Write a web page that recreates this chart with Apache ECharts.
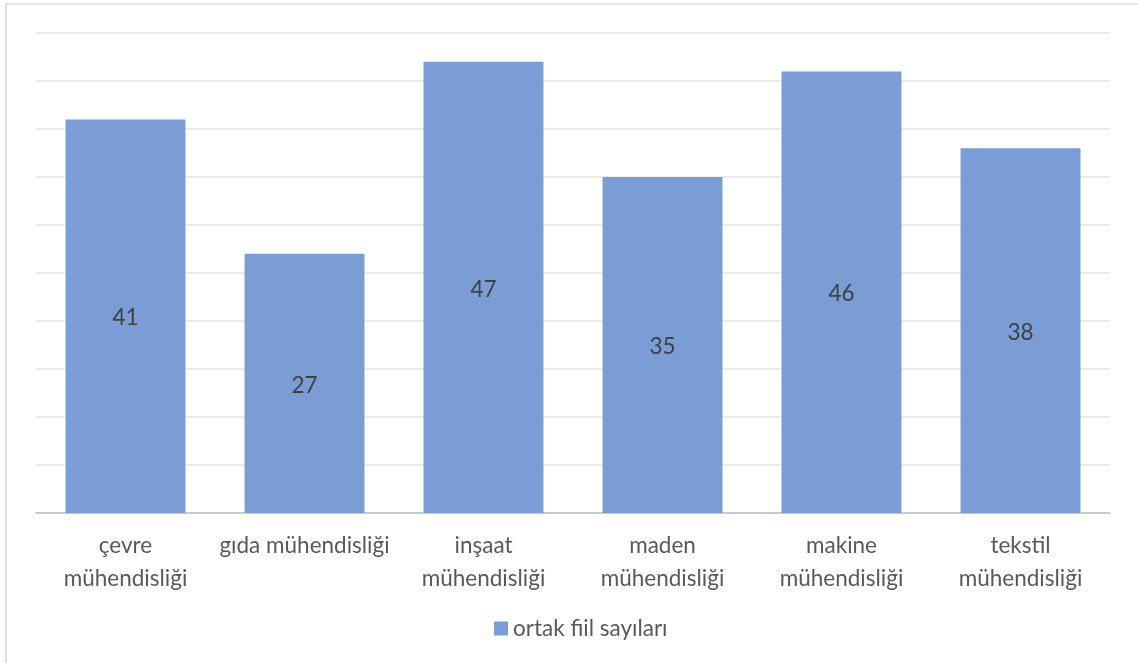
<!DOCTYPE html>
<html>
<head>
<meta charset="utf-8">
<style>
  html, body { margin: 0; padding: 0; background: #ffffff; }
  #chart { width: 1138px; height: 663px; }
</style>
<script src="https://cdn.jsdelivr.net/npm/echarts@6/dist/echarts.min.js"></script>
</head>
<body>
<div id="chart"></div>
<script>
// Departments and their shared-verb counts
const categories = ['çevre mühendisliği', 'gıda mühendisliği', 'inşaat mühendisliği', 'maden mühendisliği', 'makine mühendisliği', 'tekstil mühendisliği'];
const tickLabels = ['çevre\nmühendisliği', 'gıda mühendisliği', 'inşaat\nmühendisliği', 'maden\nmühendisliği', 'makine\nmühendisliği', 'tekstil\nmühendisliği'];
const seriesName = 'ortak fiil sayıları';
const values = [41, 27, 47, 35, 46, 38];

const FONT = 'Lato';
const SIZE = 22.5;
const chart = echarts.init(document.getElementById('chart'));
chart.setOption({
  animation: false,
  backgroundColor: '#ffffff',
  textStyle: { fontFamily: FONT },
  graphic: [{
    type: 'rect',
    shape: { x: 6, y: 4, width: 1200, height: 700 },
    style: { fill: 'none', stroke: '#d9d9d9', lineWidth: 1.5 },
    silent: true
  }],
  grid: { left: 36, right: 28, top: 33, bottom: 150, containLabel: false },
  legend: {
    top: 612,
    left: 489,
    icon: 'rect',
    itemWidth: 14,
    itemHeight: 14,
    itemGap: 7,
    textStyle: { color: '#595959', fontSize: SIZE, fontFamily: FONT },
    data: [seriesName]
  },
  xAxis: {
    type: 'category',
    data: categories,
    axisTick: { show: false },
    axisLine: { lineStyle: { color: '#bfbfbf', width: 1.5 } },
    axisLabel: {
      color: '#595959',
      fontSize: SIZE,
      fontFamily: FONT,
      lineHeight: 33,
      margin: 16,
      interval: 0,
      formatter: (v, i) => tickLabels[i]
    }
  },
  yAxis: {
    type: 'value',
    min: 0,
    max: 50,
    interval: 5,
    axisLabel: { show: false },
    axisLine: { show: false },
    axisTick: { show: false },
    splitLine: { lineStyle: { color: '#e6e6e6', width: 1.5 } }
  },
  series: [{
    name: seriesName,
    type: 'bar',
    data: values,
    barCategoryGap: '33%',
    itemStyle: { color: '#7b9dd6' },
    label: {
      show: true,
      position: 'inside',
      offset: [0, 2],
      color: '#404040',
      fontSize: SIZE,
      fontFamily: FONT
    }
  }]
});
</script>
</body>
</html>
